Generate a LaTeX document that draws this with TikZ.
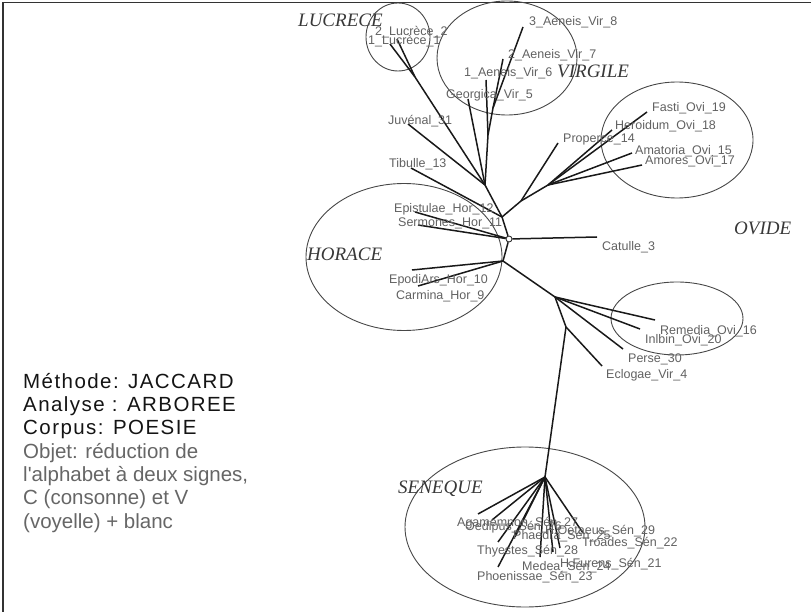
\documentclass[tikz,border=0pt]{standalone}
\usepackage{fontspec}
\setmainfont{Liberation Sans}
\newfontfamily\grpfont{Liberation Serif}
\newfontfamily\widefont[LetterSpace=7]{Liberation Sans}
\begin{document}
\begin{tikzpicture}[x=1pt,y=-1pt,
  edge/.style={draw=black!90, line width=1.5pt},
  zone/.style={draw=black!72, line width=0.9pt},
  leaf/.style={anchor=base west, inner sep=0pt, text=black!62,
    font=\fontsize{12.5}{13}\selectfont},
  group/.style={anchor=base west, inner sep=0pt, text=black!78,
    font=\grpfont\itshape\fontsize{19}{20}\selectfont},
  info/.style={anchor=base west, inner sep=0pt,
    font=\fontsize{20.5}{23}\selectfont},
  infohead/.style={info, text=black!92, font=\widefont\fontsize{20.5}{23}\selectfont},
  infobody/.style={info, text=black!60},
]
\useasboundingbox (0,0) rectangle (811,612);

% frame (top and left edges)
\draw[line width=1.6pt, black!80] (3,612) -- (3,2.5) -- (811,2.5);

% author zones
\draw[zone] (398,37) ellipse [x radius=32, y radius=34];
\draw[zone] (507,58) ellipse [x radius=70, y radius=57];
\draw[zone] (677,140) ellipse [x radius=76, y radius=58];
\draw[zone] (404,257) ellipse [x radius=98, y radius=73.5];
\draw[zone] (677,318.5) ellipse [x radius=66, y radius=36.5];
\draw[zone] (525,527) ellipse [x radius=120, y radius=80];

% inner vertices of the tree
\node[draw=black!80, line width=0.9pt, circle, minimum size=6pt, inner sep=0pt] (hub) at (509,239) {};
\coordinate (jup)  at (502,217);
\coordinate (jlow) at (503,261);
\coordinate (jv)   at (485,185);
\coordinate (jv2)  at (488,135);
\coordinate (jv1)  at (493,108);
\coordinate (jl)   at (415,77);
\coordinate (jp)   at (521,201);
\coordinate (jo)   at (548,185);
\coordinate (jr)   at (555,297);
\coordinate (js)   at (566,327);
\coordinate (jsen) at (545,477);

% leaf ends
\coordinate (catulle)    at (597,237);
\coordinate (epistulae)  at (415,212);
\coordinate (sermones)   at (418,225);
\coordinate (epodi)      at (412,270);
\coordinate (carmina)    at (418,286);
\coordinate (tibulle)    at (411,168);
\coordinate (juvenal)    at (408,124);
\coordinate (georgica)   at (468,99);
\coordinate (aen1)       at (486,80);
\coordinate (aen2)       at (503,59);
\coordinate (aen3)       at (523,27);
\coordinate (luc2)       at (397,39);
\coordinate (luc1)       at (390,44);
\coordinate (properce)   at (558,143);
\coordinate (fasti)      at (647,112);
\coordinate (heroidum)   at (612,130);
\coordinate (amatoria)   at (632,153);
\coordinate (amores)     at (642,165);
\coordinate (remedia)    at (655,320);
\coordinate (inlbin)     at (640,329);
\coordinate (perse)      at (623,349);
\coordinate (eclogae)    at (602,366);
\coordinate (agamemnon)  at (478,514);
\coordinate (oedipus)    at (492,520);
\coordinate (thyestes)   at (498,542);
\coordinate (phoenissae) at (498,567);
\coordinate (phaedra)    at (515,537);
\coordinate (medea)      at (540,557);
\coordinate (troades)    at (553,552);
\coordinate (hfurens)    at (560,548);
\coordinate (hoetaeus)   at (583,533);

% branches
\draw[edge] (hub) -- (jup);
\draw[edge] (hub) -- (jlow);
\draw[edge] (hub) -- (catulle);
\draw[edge] (hub) -- (epistulae);
\draw[edge] (hub) -- (sermones);
\draw[edge] (jup) -- (jv);
\draw[edge] (jup) -- (tibulle);
\draw[edge] (jup) -- (jp);
\draw[edge] (jv) -- (jl);
\draw[edge] (jv) -- (juvenal);
\draw[edge] (jv) -- (georgica);
\draw[edge] (jv) -- (jv2);
\draw[edge] (jv2) -- (aen1);
\draw[edge] (jv2) -- (jv1);
\draw[edge] (jv1) -- (aen2);
\draw[edge] (jv1) -- (aen3);
\draw[edge] (jl) -- (luc2);
\draw[edge] (jl) -- (luc1);
\draw[edge] (jp) -- (properce);
\draw[edge] (jp) -- (jo);
\foreach \t in {fasti,heroidum,amatoria,amores} \draw[edge] (jo) -- (\t);
\draw[edge] (jlow) -- (epodi);
\draw[edge] (jlow) -- (carmina);
\draw[edge] (jlow) -- (jr);
\foreach \t in {remedia,inlbin,perse,js} \draw[edge] (jr) -- (\t);
\draw[edge] (js) -- (eclogae);
\draw[edge] (js) -- (jsen);
\foreach \t in {agamemnon,oedipus,thyestes,phoenissae,phaedra,medea,troades,hfurens,hoetaeus}
  \draw[edge] (jsen) -- (\t);

% leaf labels
\node[leaf] (lcatulle)    at (602,250.5) {Catulle\_3};
\node[leaf] (lepistulae)  at (394,212.5) {Epistulae\_Hor\_12};
\node[leaf] (lsermones)   at (398,227)   {Sermones\_Hor\_11};
\node[leaf] (lepodi)      at (389,283.5) {EpodiArs\_Hor\_10};
\node[leaf] (lcarmina)    at (396,299.5) {Carmina\_Hor\_9};
\node[leaf] (ltibulle)    at (389,167.5) {Tibulle\_13};
\node[leaf] (ljuvenal)    at (388,124.5) {Juvénal\_31};
\node[leaf] (lgeorgica)   at (446,98.5)  {Georgica\_Vir\_5};
\node[leaf] (laen1)       at (464,77)    {1\_Aeneis\_Vir\_6};
\node[leaf] (laen2)       at (508,58.5)  {2\_Aeneis\_Vir\_7};
\node[leaf] (laen3)       at (529,26)    {3\_Aeneis\_Vir\_8};
\node[leaf] (lluc2)       at (375,35.5)  {2\_Lucrèce\_2};
\node[leaf] (lluc1)       at (368,45)    {1\_Lucrèce\_1};
\node[leaf] (lproperce)   at (563,142.5) {Properce\_14};
\node[leaf] (lfasti)      at (652,112)   {Fasti\_Ovi\_19};
\node[leaf] (lheroidum)   at (615,129.5) {Heroidum\_Ovi\_18};
\node[leaf] (lamatoria)   at (635,154.5) {Amatoria\_Ovi\_15};
\node[leaf] (lamores)     at (645,164.5) {Amores\_Ovi\_17};
\node[leaf] (lremedia)    at (660,334.5) {Remedia\_Ovi\_16};
\node[leaf] (linlbin)     at (645,343.5) {Inlbin\_Ovi\_20};
\node[leaf] (lperse)      at (628,362.5) {Perse\_30};
\node[leaf] (leclogae)    at (606,378.5) {Eclogae\_Vir\_4};
\node[leaf] (lagamemnon)  at (457,526)   {Agamemnon\_Sén\_27};
\node[leaf] (loedipus)    at (465,530.5) {Oedipus\_Sén\_26};
\node[leaf] (lphaedra)    at (513,539.5) {Phaedra\_Sén\_25};
\node[leaf] (lhoetaeus)   at (545,534)   {H.Oetaeus\_Sén\_29};
\node[leaf] (ltroades)    at (582,546)   {Troades\_Sén\_22};
\node[leaf] (lthyestes)   at (477,554.5) {Thyestes\_Sén\_28};
\node[leaf] (lhfurens)    at (560,567)   {H.Furens\_Sén\_21};
\node[leaf] (lmedea)      at (522,570.5) {Medea\_Sén\_24};
\node[leaf] (lphoenissae) at (477,580.5) {Phoenissae\_Sén\_23};

% author names
\node[group] (glucrece) at (298,27)  {LUCRECE};
\node[group] (gvirgile) at (557,78)  {VIRGILE};
\node[group] (govide)   at (734,235) {OVIDE};
\node[group] (ghorace)  at (307,261) {HORACE};
\node[group] (gseneque) at (398,493) {SENEQUE};

% description
\node[infohead] (info1) at (23,388.3) {Méthode: JACCARD};
\node[infohead] (info2) at (23,411.6) {Analyse : ARBOREE};
\node[infohead] (info3) at (23,434.9) {Corpus: POESIE};
\node[infobody] (info4) at (23,458.2) {Objet: réduction de};
\node[infobody] (info5) at (23,481.5) {l\textquotesingle alphabet à deux signes,};
\node[infobody] (info6) at (23,504.8) {C (consonne) et V};
\node[infobody] (info7) at (23,528.1) {(voyelle) + blanc};
\end{tikzpicture}
\end{document}
